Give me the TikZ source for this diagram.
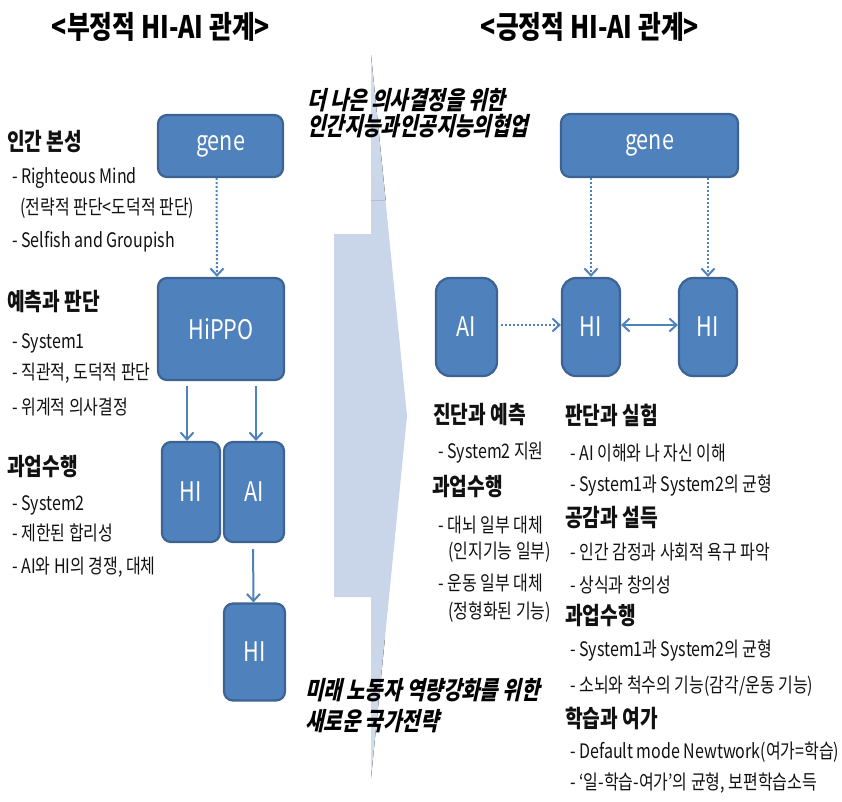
\documentclass[tikz,border=0pt]{standalone}
\usepackage{fontspec}
\setmainfont{Noto Sans CJK KR}[FakeStretch=0.8]
\newfontfamily\slkr{Noto Sans CJK KR}[FakeStretch=0.8,FakeSlant=0.22]
\usetikzlibrary{arrows.meta}
\definecolor{boxfill}{HTML}{4F81BD}
\definecolor{boxline}{HTML}{3C6394}
\definecolor{bgarrow}{HTML}{C9D6E9}
\definecolor{txt}{HTML}{111111}
\begin{document}
\begin{tikzpicture}[x=1pt,y=-1pt,
  box/.style={draw=boxline, line width=2.2pt, fill=boxfill, rounded corners=9pt, text=white, font=\fontsize{27}{30}\selectfont, inner sep=0pt},
  sbox/.style={box, rounded corners=14pt},
  head/.style={anchor=west, inner sep=0pt, text=txt, font=\fontsize{24}{26}\selectfont\bfseries},
  body/.style={anchor=west, inner sep=0pt, text=txt, font=\fontsize{20}{22}\selectfont},
  ttl/.style={inner sep=0pt, text=black, font=\fontsize{31}{34}\selectfont\bfseries},
  slant/.style={anchor=west, inner sep=0pt, text=black, font=\slkr\bfseries\fontsize{25}{27}\selectfont},
  solarrow/.style={draw=boxfill, line width=2pt, -{Straight Barb[length=7pt,width=13pt]}},
  dotarrow/.style={solarrow, dash pattern=on 2pt off 2pt},
  dblarrow/.style={draw=boxfill, line width=2pt, {Straight Barb[length=7pt,width=13pt]}-{Straight Barb[length=7pt,width=13pt]}},
]
\useasboundingbox (0,0) rectangle (842,801);

% big background arrow
\fill[bgarrow] (334,234) -- (371,234) -- (371,55) -- (407,416) -- (371,778) -- (371,597) -- (334,597) -- cycle;
\fill[top color=bgarrow!80, bottom color=bgarrow] (371,55) -- (385.6,200) -- (371,200) -- cycle;
\fill[top color=bgarrow, bottom color=bgarrow!80] (371,640) -- (384.7,640) -- (371,778) -- cycle;

% titles
\node[ttl] (t1) at (161,27) {<부정적 HI-AI 관계>};
\node[ttl] (t2) at (590,27) {<긍정적 HI-AI 관계>};

% left boxes
\node[box, minimum width=125pt, minimum height=62pt] (gL) at (220.5,146) {gene};
\node[box, minimum width=126pt, minimum height=102pt] (hippo) at (221,329) {HiPPO};
\node[box, minimum width=58pt, minimum height=100pt] (hiL) at (191,492) {HI};
\node[box, minimum width=60pt, minimum height=100pt] (aiL) at (254,492) {AI};
\node[box, minimum width=61pt, minimum height=97pt] (hiL2) at (254.5,652) {HI};

\draw[dotarrow] ([xshift=-4pt]gL.south) -- ([xshift=-4pt]hippo.north);
\draw[solarrow, shorten <=5pt] ([xshift=-4pt]hiL.north |- hippo.south) -- ([xshift=-4pt]hiL.north);
\draw[solarrow, shorten <=5pt] ([xshift=2pt]aiL.north |- hippo.south) -- ([xshift=2pt]aiL.north);
\draw[solarrow, shorten <=6pt] ([xshift=-1pt]aiL.south) -- ([xshift=-1pt]hiL2.north);

% right boxes
\node[box, minimum width=177pt, minimum height=63pt] (gR) at (649.5,145.5) {gene};
\node[sbox, minimum width=61pt, minimum height=98pt] (aiR) at (466.5,327) {AI};
\node[sbox, minimum width=58pt, minimum height=98pt] (hiR) at (591,327) {HI};
\node[sbox, minimum width=58pt, minimum height=98pt] (hiR2) at (708,327) {HI};

\draw[dotarrow] (hiR.north |- gR.south) -- (hiR.north);
\draw[dotarrow] (hiR2.north |- gR.south) -- (hiR2.north);
\draw[dotarrow, shorten <=3pt] ([yshift=2pt]aiR.east) -- ([yshift=2pt]hiR.west);
\draw[dblarrow] ([yshift=2pt]hiR.east) -- ([yshift=2pt]hiR2.west);

% left texts
\node[head] (l1) at (7,142) {인간 본성};
\node[body] (l2) at (12,178) {- Righteous Mind};
\node[body] (l3) at (20,208) {(전략적 판단<도덕적 판단)};
\node[body] (l4) at (12,242) {- Selfish and Groupish};
\node[head] (l5) at (7,302) {예측과 판단};
\node[body] (l6) at (12,343) {- System1};
\node[body] (l7) at (12,373) {- 직관적, 도덕적 판단};
\node[body] (l8) at (12,407) {- 위계적 의사결정};
\node[head] (l9) at (7,467) {과업수행};
\node[body] (l10) at (12,505) {- System2};
\node[body] (l11) at (12,533) {- 제한된 합리성};
\node[body] (l12) at (12,567) {- AI와 HI의 경쟁, 대체};

% italic texts
\node[slant] (s1) at (307,100) {더 나은 의사결정을 위한};
\node[slant] (s2) at (307,126) {인간지능과인공지능의협업};
\node[slant] (s3) at (305,690) {미래 노동자 역량강화를 위한};
\node[slant] (s4) at (305,721) {새로운 국가전략};

% right column A
\node[head] (a1) at (433,415) {진단과 예측};
\node[body] (a2) at (438,453) {- System2 지원};
\node[head] (a3) at (432,487) {과업수행};
\node[body] (a4) at (438,525) {- 대뇌 일부 대체};
\node[body] (a5) at (448,552) {(인지기능 일부)};
\node[body] (a6) at (438,583) {- 운동 일부 대체};
\node[body] (a7) at (448,612) {(정형화된 기능)};

% right column B
\node[head] (b1) at (565,415) {판단과 실험};
\node[body] (b2) at (570,453) {- AI 이해와 나 자신 이해};
\node[body] (b3) at (570,485) {- System1과 System2의 균형};
\node[head] (b4) at (565,518) {공감과 설득};
\node[body] (b5) at (570,552) {- 인간 감정과 사회적 욕구 파악};
\node[body] (b6) at (570,585) {- 상식과 창의성};
\node[head] (b7) at (565,616) {과업수행};
\node[body] (b8) at (570,650) {- System1과 System2의 균형};
\node[body] (b9) at (570,686) {- 소뇌와 척수의 기능(감각/운동 기능)};
\node[head] (b10) at (565,718) {학습과 여가};
\node[body] (b11) at (570,752) {- Default mode Newtwork(여가=학습)};
\node[body] (b12) at (570,783) {- ‘일-학습-여가’의 균형, 보편학습소득};
\end{tikzpicture}
\end{document}
